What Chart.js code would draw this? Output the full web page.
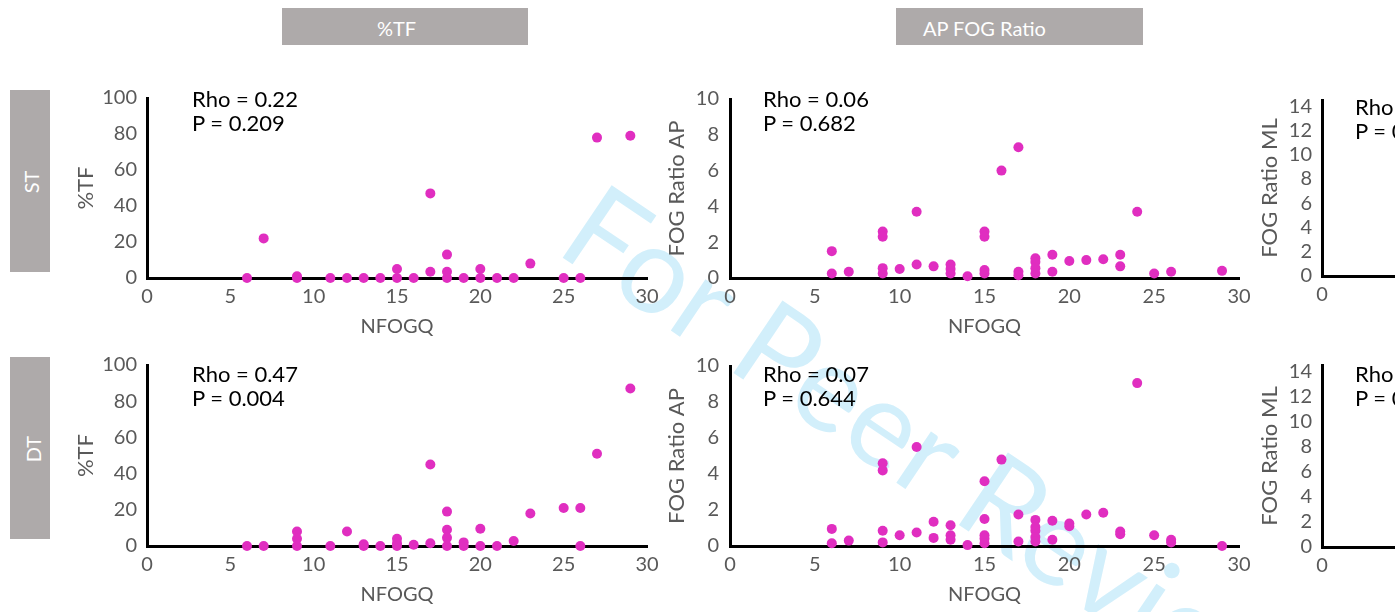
<!DOCTYPE html>
<html>
<head>
<meta charset="utf-8">
<script src="https://cdn.jsdelivr.net/npm/chart.js@4.4.1/dist/chart.umd.min.js"></script>
<style>
  html, body { margin:0; padding:0; width:1395px; height:612px; overflow:hidden; background:#fff; font-family:Lato, sans-serif; }
  .box { position:absolute; background:#aeaaaa; z-index:2; }
  .box span { position:absolute; color:#fff; font-size:20px; white-space:nowrap; }
  canvas { position:absolute; z-index:2; }
  .stat { position:absolute; z-index:3; font-size:22px; line-height:24px; color:#000; white-space:nowrap; }
  #wm { position:absolute; z-index:1; left:614px; top:162px; color:#d2effb; font-size:122px; line-height:1;
        white-space:nowrap; transform-origin:0 0; transform:rotate(34deg); }
</style>
</head>
<body>
<div id="wm">For Peer Review</div>

<div class="box" style="left:282px;top:8px;width:246px;height:37px"><span style="left:95px;top:8px">%TF</span></div>
<div class="box" style="left:896px;top:8px;width:247px;height:37px"><span style="left:27px;top:8px">AP FOG Ratio</span></div>
<div class="box" style="left:10px;top:90px;width:40px;height:182px"><span style="left:10px;top:80px;transform:rotate(-90deg)">ST</span></div>
<div class="box" style="left:10px;top:357px;width:40px;height:182px"><span style="left:10px;top:80px;transform:rotate(-90deg)">DT</span></div>

<script>
// NFOGQ (x) against each outcome
// ST, %TF
const stTfX = [6, 7, 9, 9, 11, 12, 13, 14, 15, 15, 16, 17, 17, 18, 18, 18, 19, 20, 20, 21, 22, 23, 25, 26, 27, 29];
const stTfY = [0, 22, 1, 0, 0, 0, 0, 0, 5, 0, 0, 47, 3.5, 13, 3.5, 0, 0, 5, 0, 0, 0, 8, 0, 0, 78, 79];
// ST, AP FOG ratio
const stApX = [6, 6, 7, 9, 9, 9, 9, 10, 11, 11, 12, 13, 13, 13, 14, 15, 15, 15, 15, 16, 17, 17, 17,
               18, 18, 18, 18, 19, 19, 20, 21, 22, 23, 23, 24, 25, 26, 29];
const stApY = [1.5, 0.25, 0.35, 2.6, 2.3, 0.55, 0.25, 0.5, 3.7, 0.75, 0.65, 0.75, 0.5, 0.25, 0.1, 2.6, 2.3, 0.45, 0.25, 6.0, 7.3, 0.35, 0.15,
               1.1, 0.9, 0.55, 0.25, 1.3, 0.35, 0.95, 1.0, 1.05, 1.3, 0.65, 3.7, 0.25, 0.35, 0.4];
// DT, %TF
const dtTfX = [6, 7, 9, 9, 9, 11, 12, 13, 13, 14, 15, 15, 15, 16, 17, 17, 18, 18, 18, 18,
               19, 19, 20, 20, 21, 22, 23, 25, 26, 26, 27, 29];
const dtTfY = [0, 0, 8, 4, 0, 0, 8, 1, 0, 0, 4, 1.5, 0, 0.7, 45, 1.5, 19, 9, 4.5, 0,
               2, 0, 9.5, 0, 0, 2.8, 18, 21, 21, 0, 51, 87];
// DT, AP FOG ratio
const dtApX = [6, 6, 7, 9, 9, 9, 9, 10, 11, 11, 12, 12, 13, 13, 13, 14, 15, 15, 15, 15, 15, 16, 17, 17,
               18, 18, 18, 18, 18, 19, 19, 20, 20, 21, 22, 23, 23, 24, 25, 26, 26, 29];
const dtApY = [0.95, 0.15, 0.3, 4.6, 4.2, 0.85, 0.2, 0.6, 5.5, 0.75, 1.35, 0.45, 1.15, 0.6, 0.35, 0.05, 3.6, 1.5, 0.6, 0.4, 0.15, 4.8, 1.75, 0.25,
               1.45, 1.05, 0.85, 0.5, 0.25, 1.4, 0.35, 1.25, 1.1, 1.75, 1.85, 0.8, 0.65, 9.05, 0.6, 0.35, 0.2, 0];
// ML FOG ratio: the panel is cut at the right edge, no points are visible
const stMlX = [], stMlY = [];
const dtMlX = [], dtMlY = [];

const xTicks = { min: 0, max: 30, step: 5 };

const PINK = '#e02ec0';
const GREY = '#595959';
const TICK_FONT = { family: 'Lato', size: 20 };
const XT_FONT = { family: 'Lato', size: 20 };
const YT_FONT = { family: 'Lato', size: 22 };

const YW = 80, PAD_T = 14, PAD_R = 24, XH = 62;

function panel(p) {
    const cl = p.left - YW, ct = p.top - PAD_T;
    const cw = p.right - cl + PAD_R, ch = p.bottom - ct + XH;
    const cv = document.createElement('canvas');
    cv.width = cw; cv.height = ch;
    cv.style.left = cl + 'px'; cv.style.top = ct + 'px';
    cv.style.width = cw + 'px'; cv.style.height = ch + 'px';
    document.body.appendChild(cv);

    new Chart(cv, {
        type: 'scatter',
        data: { datasets: [{
            data: p.xs.map((x, i) => ({ x: x, y: p.ys[i] })),
            backgroundColor: PINK, borderColor: PINK, borderWidth: 0,
            pointRadius: 5, pointHoverRadius: 5, clip: false
        }] },
        options: {
            responsive: false, animation: false, devicePixelRatio: 1, events: [],
            layout: { padding: { top: PAD_T, right: PAD_R, left: 0, bottom: 0 } },
            plugins: { legend: { display: false }, tooltip: { enabled: false } },
            scales: {
                x: {
                    type: 'linear', min: xTicks.min, max: xTicks.max,
                    ticks: { stepSize: xTicks.step, padding: 7, color: GREY, font: TICK_FONT, maxRotation: 0, autoSkip: false },
                    grid: { display: false, drawTicks: false },
                    border: { color: '#000', width: 3 },
                    title: { display: true, text: 'NFOGQ', color: GREY, font: XT_FONT, padding: { top: 0, bottom: 1 } },
                    afterFit: s => { s.height = XH; }
                },
                y: {
                    type: 'linear', min: 0, max: p.yMax,
                    ticks: { stepSize: p.yStep, padding: p.tickPad, includeBounds: false, autoSkip: false, color: GREY, font: TICK_FONT },
                    grid: { display: false, drawTicks: false },
                    border: { color: '#000', width: 3 },
                    title: { display: true, text: p.yTitle, color: GREY, font: YT_FONT, padding: { top: p.titlePad, bottom: 0 } },
                    afterFit: s => { s.width = YW; }
                }
            }
        }
    });

    const st = document.createElement('div');
    st.className = 'stat';
    st.style.left = p.statX + 'px'; st.style.top = p.statY + 'px';
    st.innerHTML = p.stat[0] + '<br>' + p.stat[1];
    document.body.appendChild(st);
}

// top row (ST)
panel({ left: 147, right: 647, top: 90, bottom: 278, xs: stTfX, ys: stTfY, yMax: 100, yStep: 20, yTitle: '%TF',
        titlePad: 6, tickPad: 10, stat: ['Rho = 0.22', 'P = 0.209'], statX: 192, statY: 87 });
panel({ left: 730, right: 1239, top: 90, bottom: 278, xs: stApX, ys: stApY, yMax: 10, yStep: 2, yTitle: 'FOG Ratio AP',
        titlePad: 14, tickPad: 11, stat: ['Rho = 0.06', 'P = 0.682'], statX: 763, statY: 87 });
panel({ left: 1322, right: 1831, top: 92, bottom: 276, xs: stMlX, ys: stMlY, yMax: 14.5, yStep: 2, yTitle: 'FOG Ratio ML',
        titlePad: 15, tickPad: 10, stat: ['Rho =', 'P = 0.'], statX: 1355, statY: 95 });
// bottom row (DT)
panel({ left: 147, right: 647, top: 357, bottom: 546, xs: dtTfX, ys: dtTfY, yMax: 100, yStep: 20, yTitle: '%TF',
        titlePad: 6, tickPad: 10, stat: ['Rho = 0.47', 'P = 0.004'], statX: 192, statY: 362 });
panel({ left: 730, right: 1239, top: 357, bottom: 546, xs: dtApX, ys: dtApY, yMax: 10, yStep: 2, yTitle: 'FOG Ratio AP',
        titlePad: 14, tickPad: 11, stat: ['Rho = 0.07', 'P = 0.644'], statX: 763, statY: 362 });
panel({ left: 1322, right: 1831, top: 357, bottom: 547, xs: dtMlX, ys: dtMlY, yMax: 14.5, yStep: 2, yTitle: 'FOG Ratio ML',
        titlePad: 15, tickPad: 10, stat: ['Rho =', 'P = 0.'], statX: 1355, statY: 362 });
</script>
</body>
</html>
